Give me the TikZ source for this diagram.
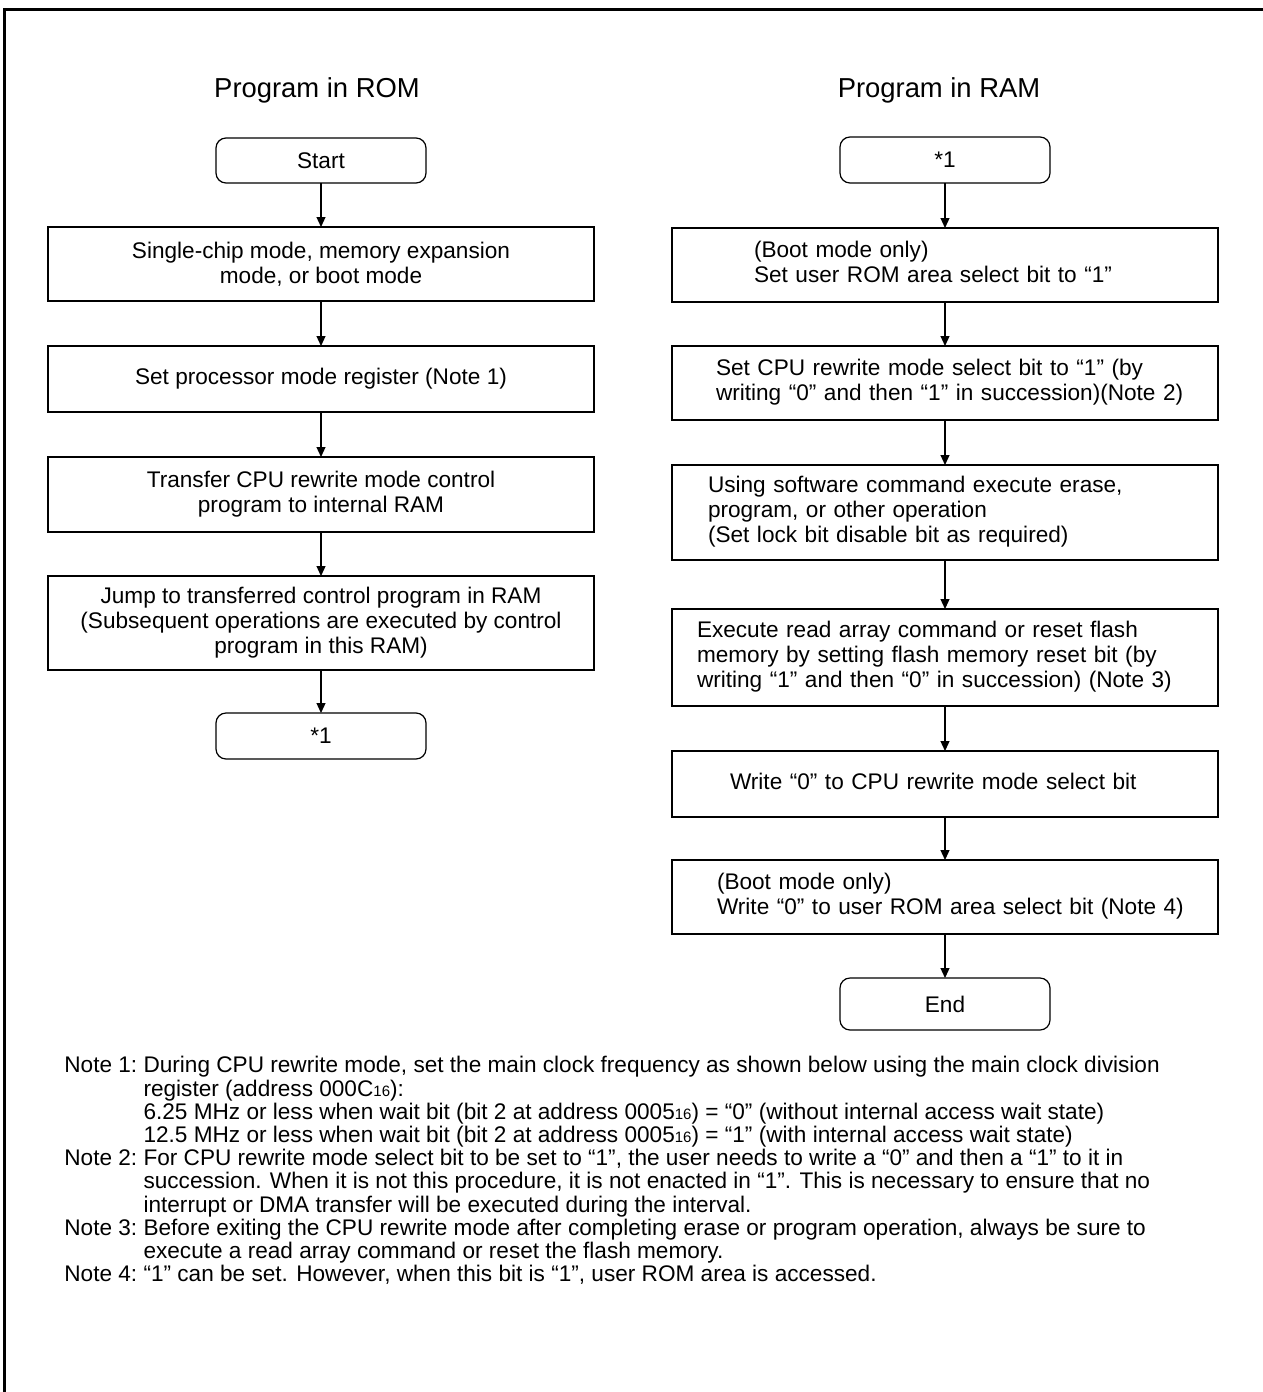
\documentclass[tikz,border=0pt]{standalone}
\usepackage{fontspec}
\setmainfont{Liberation Sans}
\usetikzlibrary{arrows.meta,positioning}

\newcommand{\hexsub}[1]{{\fontsize{7.5}{8}\selectfont #1}}
\newcommand{\inset}[2]{\hspace*{#1}\begin{tabular}{@{}l@{}}#2\end{tabular}}

\begin{document}
\begin{tikzpicture}[x=0.5pt, y=-0.5pt,
    font=\fontsize{11.3}{12.5}\selectfont,
    box/.style={draw, line width=0.6pt, inner sep=0pt, outer sep=0pt,
      minimum width=273pt, align=center},
    rbox/.style={box, text width=273pt, align=left},
    term/.style={draw, line width=0.6pt, rounded corners=5pt, inner sep=0pt,
      outer sep=0pt, minimum width=105pt, minimum height=23pt},
    title/.style={font=\fontsize{13.7}{16}\selectfont, anchor=base},
    link/.style={-{Triangle[length=5pt,width=4.5pt]}, line width=0.6pt}]
  \useasboundingbox (0,0) rectangle (1263,1392);
  \draw[line width=1.5pt] (4.5,1392) -- (4.5,9.5) -- (1263,9.5);

  % program in ROM
  \node[title] (romtitle) at (317,97) {Program in ROM};
  \node[term, minimum height=22.5pt] (start) at (321,160.5) {Start};
  \node[box, minimum height=37pt] (mode) at (321,264)
    {Single-chip mode, memory expansion\\ mode, or boot mode};
  \node[box, minimum height=33pt] (pmreg) at (321,379)
    {Set processor mode register (Note 1)};
  \node[box, minimum height=37.5pt] (xfer) at (321,494.5)
    {Transfer CPU rewrite mode control\\ program to internal RAM};
  \node[box, minimum height=47pt] (jump) at (321,623)
    {Jump to transferred control program in RAM\\
     (Subsequent operations are executed by control\\
     program in this RAM)};
  \node[term] (romend) at (321,736) {*1};

  % program in RAM
  \node[title] (ramtitle) at (939,97) {Program in RAM};
  \node[term] (ramstart) at (945,160) {*1};
  \node[rbox, minimum height=37pt] (romsel) at (945,265)
    {\inset{41pt}{(Boot mode only)\\ Set user ROM area select bit to “1”}};
  \node[rbox, minimum height=37pt] (cpuon) at (945,383)
    {\inset{22pt}{Set CPU rewrite mode select bit to “1” (by\\
     writing “0” and then “1” in succession)(Note 2)}};
  \node[rbox, minimum height=47.5pt] (erase) at (945,512.5)
    {\inset{18pt}{Using software command execute erase,\\ program, or other operation\\
     (Set lock bit disable bit as required)}};
  \node[rbox, minimum height=48.5pt] (reset) at (945,657.5)
    {\inset{12.5pt}{Execute read array command or reset flash\\
     memory by setting flash memory reset bit (by\\
     writing “1” and then “0” in succession) (Note 3)}};
  \node[rbox, minimum height=33pt] (cpuoff) at (945,784)
    {\inset{29pt}{Write “0” to CPU rewrite mode select bit}};
  \node[rbox, minimum height=37pt] (romclr) at (945,897)
    {\inset{22.5pt}{(Boot mode only)\\ Write “0” to user ROM area select bit (Note 4)}};
  \node[term, minimum height=26pt] (finish) at (945,1004) {End};

  \foreach \a/\b in {start/mode, mode/pmreg, pmreg/xfer, xfer/jump, jump/romend,
      ramstart/romsel, romsel/cpuon, cpuon/erase, erase/reset, reset/cpuoff,
      cpuoff/romclr, romclr/finish}
    \draw[link] (\a) -- (\b);

  % notes
  \node[anchor=north west, inner sep=0pt, font=\fontsize{11.3}{11.4}\selectfont]
    (notes) at (64,1056) {%
    \begin{tabular}{@{}l@{\ }l@{}}
      Note 1: & During CPU rewrite mode, set the main clock frequency as shown below using the main clock division\\
              & register (address 000C\hexsub{16}):\\
              & 6.25 MHz or less when wait bit (bit 2 at address 0005\hexsub{16}) = “0” (without internal access wait state)\\
              & 12.5 MHz or less when wait bit (bit 2 at address 0005\hexsub{16}) = “1” (with internal access wait state)\\
      Note 2: & For CPU rewrite mode select bit to be set to “1”, the user needs to write a “0” and then a “1” to it in\\
              & succession. When it is not this procedure, it is not enacted in “1”. This is necessary to ensure that no\\
              & interrupt or DMA transfer will be executed during the interval.\\
      Note 3: & Before exiting the CPU rewrite mode after completing erase or program operation, always be sure to\\
              & execute a read array command or reset the flash memory.\\
      Note 4: & “1” can be set. However, when this bit is “1”, user ROM area is accessed.
    \end{tabular}};
\end{tikzpicture}
\end{document}
